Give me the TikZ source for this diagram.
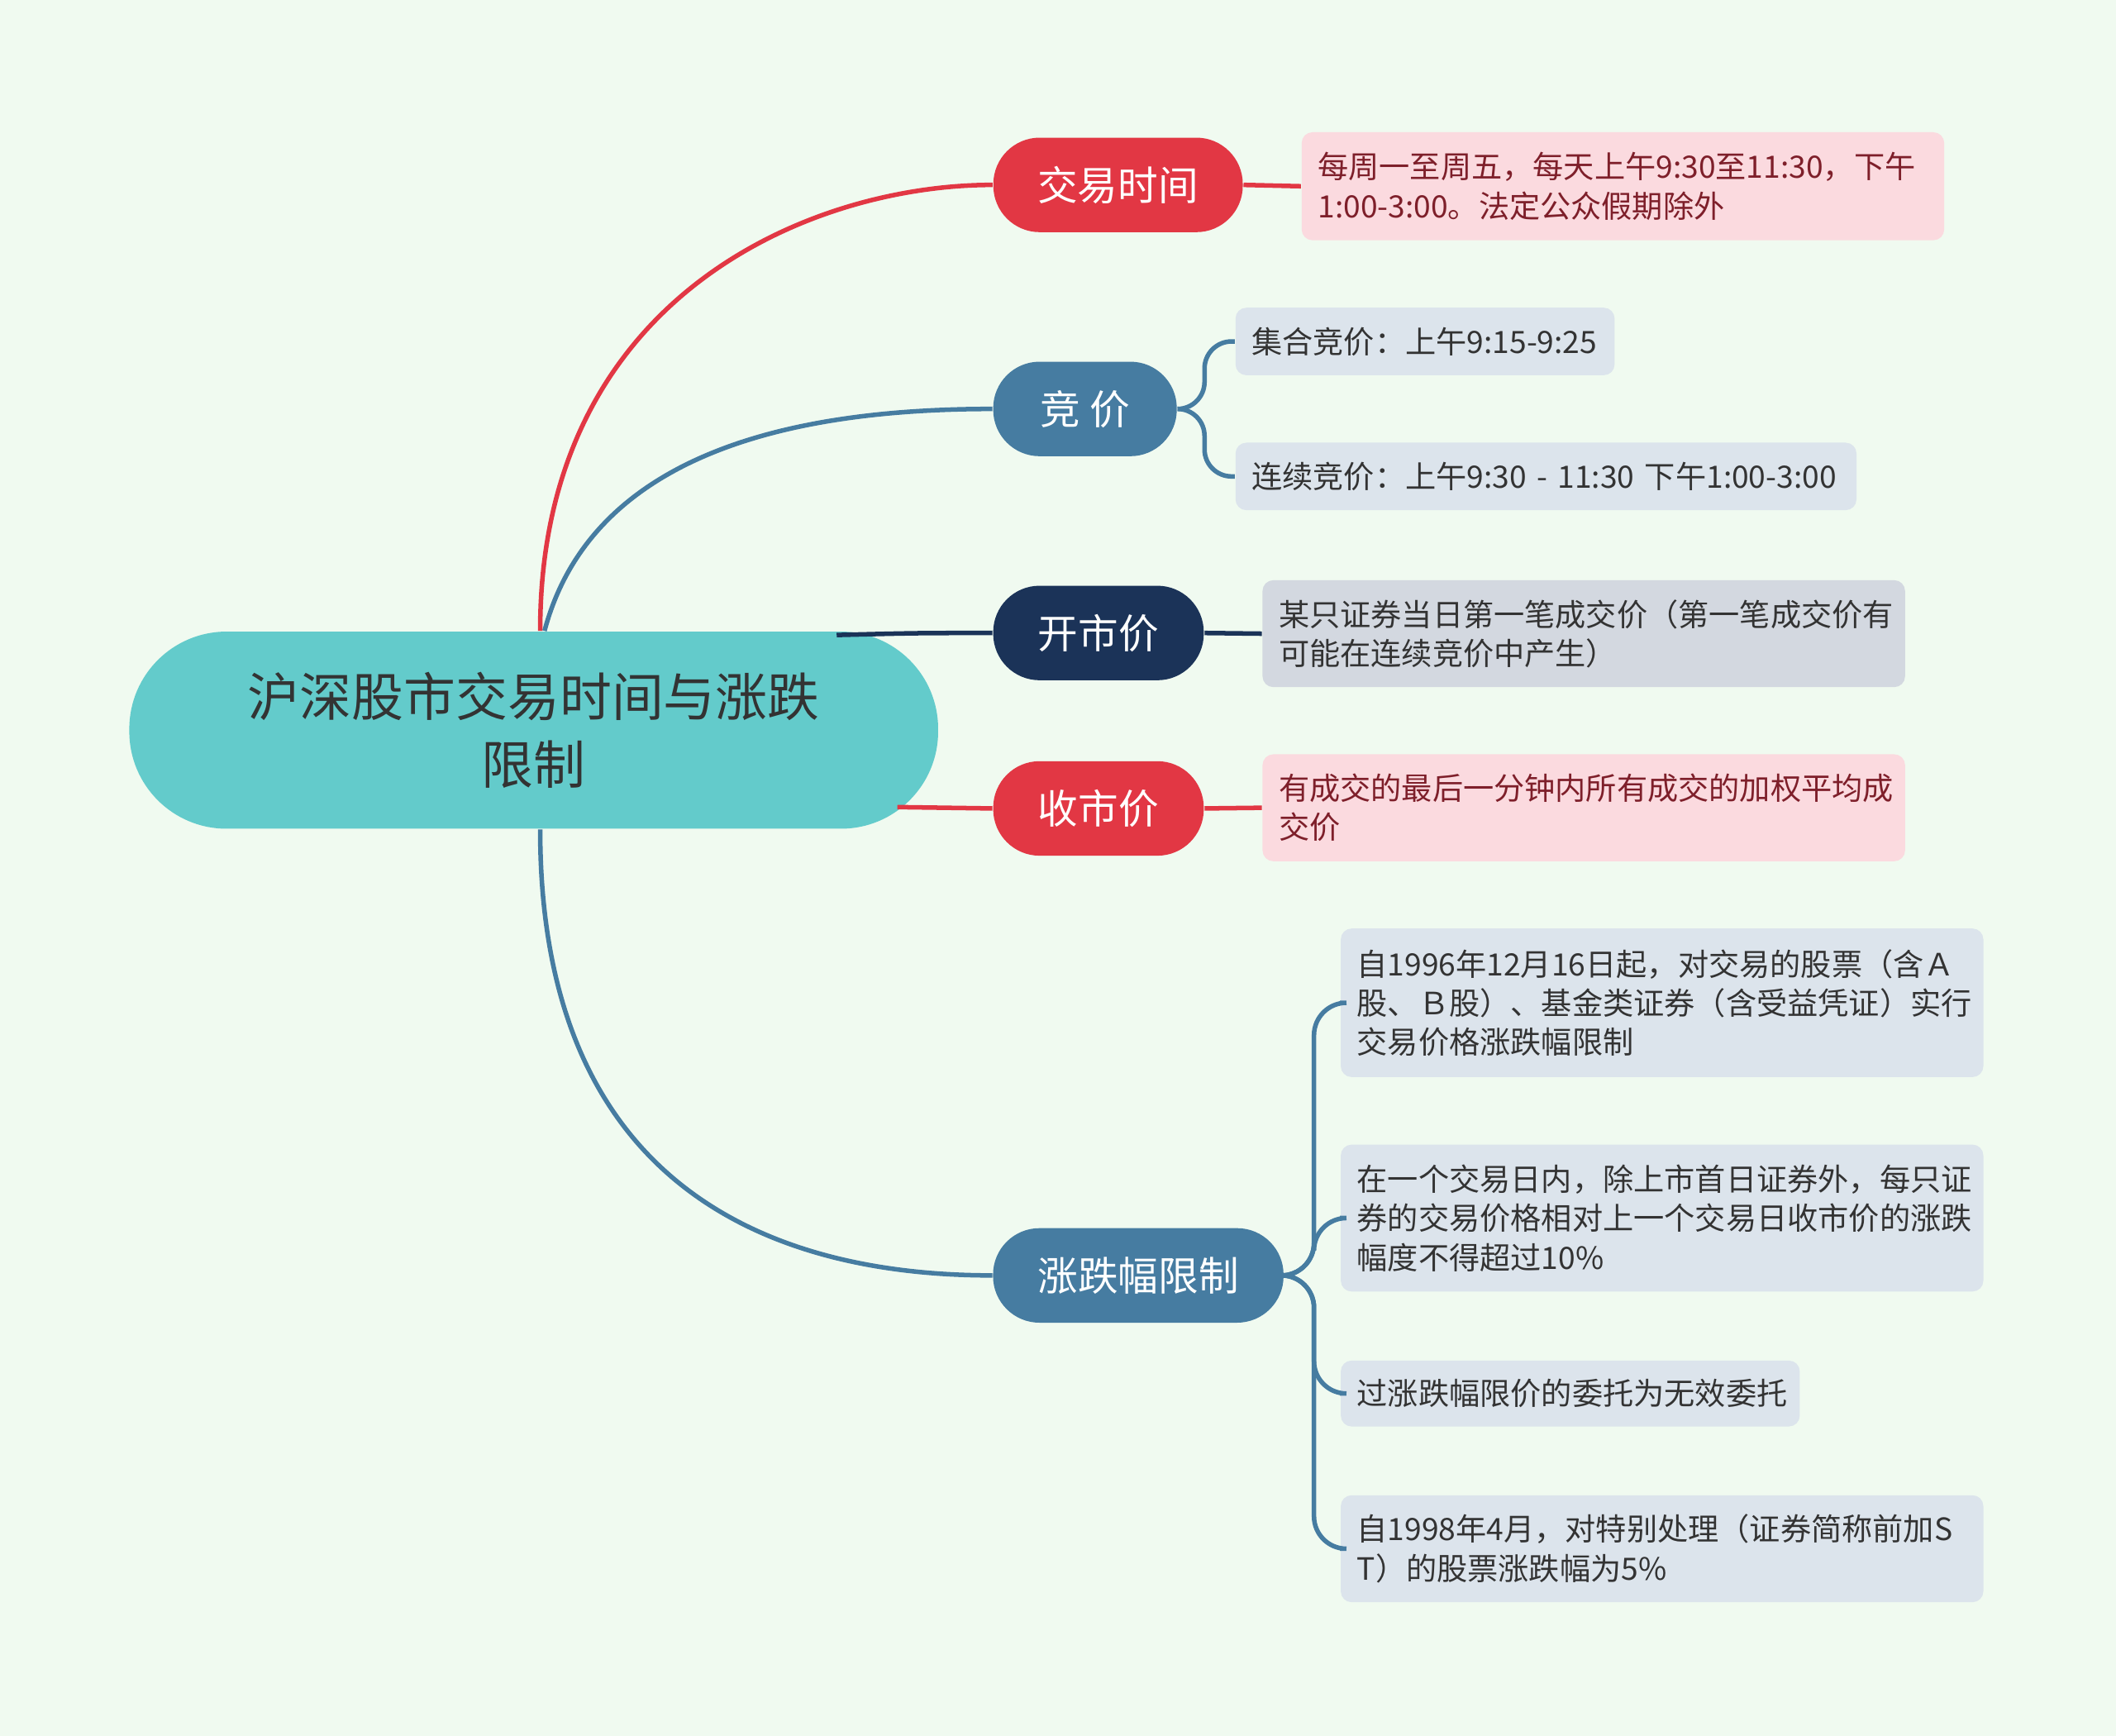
\documentclass[tikz,border=0pt]{standalone}
\usepackage{fontspec}
\setmainfont{Noto Sans CJK SC}
\definecolor{bgcol}{HTML}{F0FAF0}
\definecolor{rootcol}{HTML}{63CBCB}
\definecolor{redcol}{HTML}{E23744}
\definecolor{pinkcol}{HTML}{FBDADF}
\definecolor{bluecol}{HTML}{467CA1}
\definecolor{navycol}{HTML}{1B3358}
\definecolor{lbluecol}{HTML}{DCE4EC}
\definecolor{greycol}{HTML}{D3D8E0}
\definecolor{darkred}{HTML}{7E1F2A}
\tikzset{
  rootbox/.style={fill=rootcol, rounded corners=0.9cm, minimum width=7.49cm, minimum height=1.825cm, align=center, text=black!80, font=\fontsize{13.7}{17.7}\selectfont},
  branchbox/.style={fill=#1, text=white, rounded corners=0.43cm, minimum height=0.875cm, font=\fontsize{10.6}{13}\selectfont},
  leafbox/.style={fill=#1, rounded corners=0.1cm, anchor=west, align=left, inner xsep=0.15cm, text=black!80, font=\fontsize{8.1}{10.3}\selectfont},
  link/.style={draw=#1, line width=1.2pt}
}
\begin{document}
\begin{tikzpicture}[x=0.0125cm,y=-0.0125cm]
\fill[bgcol] (0,0) rectangle (1568,1286);
\useasboundingbox (0,0) rectangle (1568,1286);
% root and branches
\node[rootbox] (root) at (395.5,541) {沪深股市交易时间与涨跌\\限制};
\node[branchbox=redcol, minimum width=2.31cm] (time) at (828.5,137) {交易时间};
\node[branchbox=bluecol, minimum width=1.7cm] (bid) at (804,303) {竞 价};
\node[branchbox=navycol, minimum width=1.95cm] (open) at (814,469) {开市价};
\node[branchbox=redcol, minimum width=1.95cm] (close) at (814,599) {收市价};
\node[branchbox=bluecol, minimum width=2.69cm] (limit) at (843.5,945) {涨跌幅限制};
% leaves
\node[leafbox=pinkcol, text=darkred, text width=5.65cm, minimum height=1.0cm] (timeA) at (964,138) {每周一至周五，每天上午9:30至11:30，下午\\1:00-3:00。法定公众假期除外};
\node[leafbox=lbluecol, text width=3.21cm, minimum height=0.625cm] (bidA) at (915,253) {集合竞价：上午9:15-9:25};
\node[leafbox=lbluecol, text width=5.45cm, minimum height=0.625cm] (bidB) at (915,353) {连续竞价：上午9:30 - 11:30 下午1:00-3:00};
\node[leafbox=greycol, text width=5.65cm, minimum height=0.99cm] (openA) at (935,469.5) {某只证券当日第一笔成交价（第一笔成交价有\\可能在连续竞价中产生）};
\node[leafbox=pinkcol, text=darkred, text width=5.65cm, minimum height=0.99cm] (closeA) at (935,598.5) {有成交的最后一分钟内所有成交的加权平均成\\交价};
\node[leafbox=lbluecol, text width=5.65cm, minimum height=1.375cm] (limitA) at (993,743) {自1996年12月16日起，对交易的股票（含Ａ\\股、Ｂ股）、基金类证券（含受益凭证）实行\\交易价格涨跌幅限制};
\node[leafbox=lbluecol, text width=5.65cm, minimum height=1.36cm] (limitB) at (993,902.5) {在一个交易日内，除上市首日证券外，每只证\\券的交易价格相对上一个交易日收市价的涨跌\\幅度不得超过10\%};
\node[leafbox=lbluecol, text width=3.95cm, minimum height=0.61cm] (limitC) at (993,1032.5) {过涨跌幅限价的委托为无效委托};
\node[leafbox=lbluecol, text width=5.65cm, minimum height=0.99cm] (limitD) at (993,1147.5) {自1998年4月，对特别处理（证券简称前加S\\T）的股票涨跌幅为5\%};
% root links
\draw[link=redcol] ([xshift=0.06cm]root.north) .. controls (400,220) and (600,137) .. (time.west);
\draw[link=bluecol] ([xshift=0.1cm]root.north) .. controls (440,330) and (600,303) .. (bid.west);
\draw[link=navycol] (620,470.5) .. controls (680,469) .. (open.west);
\draw[link=redcol] (665,598) .. controls (700,599) .. (close.west);
\draw[link=bluecol] ([xshift=0.06cm]root.south) .. controls (400,870) and (560,945) .. (limit.west);
% leaf links
\draw[link=redcol] (time.east) -- (timeA.west);
\draw[link=navycol] (open.east) -- (openA.west);
\draw[link=redcol] (close.east) -- (closeA.west);
\draw[link=bluecol, rounded corners=0.25cm] (bid.east) -- ++(20,0) |- (bidA.west);
\draw[link=bluecol, rounded corners=0.25cm] (bid.east) -- ++(20,0) |- (bidB.west);
\foreach \leaf in {limitA,limitB,limitC,limitD}
  \draw[link=bluecol, rounded corners=0.3cm] (limit.east) -- ++(22,0) |- (\leaf.west);
\end{tikzpicture}
\end{document}
